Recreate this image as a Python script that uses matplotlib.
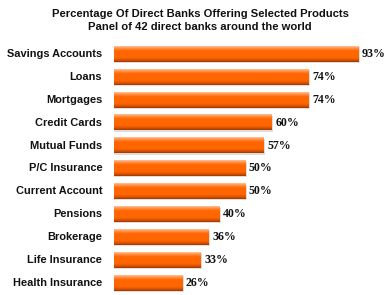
import matplotlib
matplotlib.use("Agg")
import matplotlib.pyplot as plt
import numpy as np
from matplotlib.colors import LinearSegmentedColormap

categories = ["Savings Accounts", "Loans", "Mortgages", "Credit Cards", "Mutual Funds",
              "P/C Insurance", "Current Account", "Pensions", "Brokerage",
              "Life Insurance", "Health Insurance"]
values = [93, 74, 74, 60, 57, 50, 50, 40, 36, 33, 26]
title = "Percentage Of Direct Banks Offering Selected Products\nPanel of 42 direct banks around the world"

W, H = 388, 295
fig = plt.figure(figsize=(W / 100, H / 100), dpi=100)
fig.patch.set_facecolor("white")
ax = fig.add_axes([114 / W, 0.0019, (377 - 114) / W, 0.8558 - 0.0019])
ax.set_xlim(0, 100)
ax.set_ylim(len(values) - 0.5, -0.5)
ax.axis("off")

cmap = LinearSegmentedColormap.from_list(
    "bar", [(0.0, "#ffc09a"), (0.15, "#ff8a3a"), (0.3, "#ff6600"),
            (0.72, "#ff6600"), (0.88, "#d95200"), (1.0, "#a03800")])
grad = np.linspace(0, 1, 64).reshape(-1, 1)
h = 0.68
for i, v in enumerate(values):
    # shadow
    ax.barh(i + 0.05, v + 0.5, height=h, left=0, color="#dddddd", zorder=1)
    ax.imshow(grad, cmap=cmap, aspect="auto", extent=(0, v, i + h / 2, i - h / 2),
              zorder=2, interpolation="bilinear")
    ax.text(v + 1.3, i, f"{v}%", va="center", ha="left", fontsize=8.6,
            fontweight="bold", family="Liberation Serif", color="#111111")
    ax.text(-4.5, i, categories[i], va="center", ha="right", fontsize=7.9,
            fontweight="bold", family="Liberation Sans", color="#111111",
            clip_on=False)

fig.text(200 / W, 1 - 20.5 / H, title, ha="center", va="center", fontsize=8.1,
         fontweight="bold", family="Liberation Sans", linespacing=1.45, color="#111111")

fig.savefig("out.png", dpi=100, facecolor="white")
